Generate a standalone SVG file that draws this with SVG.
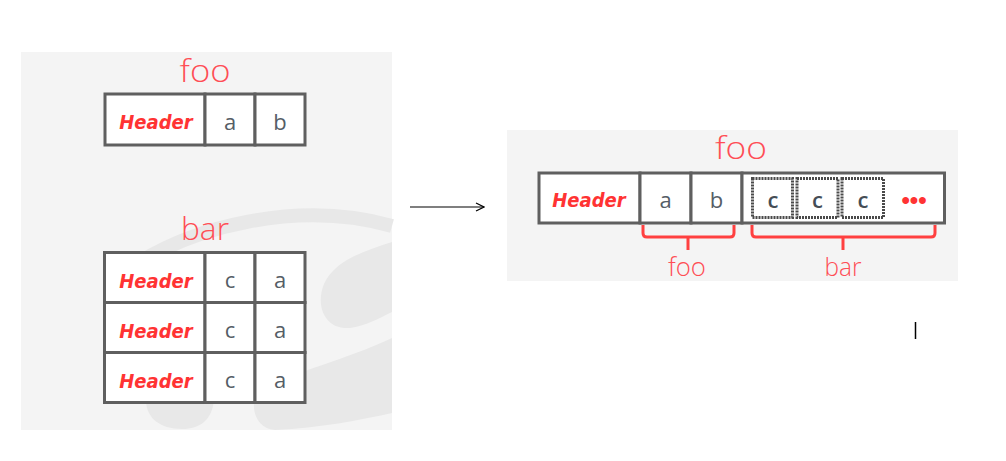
<svg xmlns="http://www.w3.org/2000/svg" width="1006" height="461" viewBox="0 0 1006 461">
<defs>
<style>
.panel{fill:#f4f4f4}
.wm{fill:#e8e8e8}
.cell{fill:#ffffff;stroke:#5f5f5f;stroke-width:3}
.hdr{font-family:"DejaVu Sans Condensed","DejaVu Sans",sans-serif;font-stretch:condensed;font-weight:bold;font-style:italic;font-size:20px;fill:#ff3333;text-anchor:middle}
.val{font-family:"Open Sans","Liberation Sans",sans-serif;font-weight:400;font-size:22px;fill:#555d66;text-anchor:middle}
.valb{font-family:"Open Sans","Liberation Sans",sans-serif;font-weight:600;font-size:22px;fill:#454d56;text-anchor:middle}
.title{font-family:"Open Sans","Liberation Sans",sans-serif;font-weight:300;fill:#ff4d55;text-anchor:middle}
.dot{fill:none;stroke:#4a4a4a;stroke-width:3;stroke-dasharray:2 1}
.brace{fill:none;stroke:#ff4040;stroke-width:3;stroke-linejoin:round}
</style>
<marker id="arr" viewBox="0 0 10 10" refX="9" refY="5" markerWidth="10" markerHeight="10" markerUnits="userSpaceOnUse" orient="auto">
<path d="M1 1 L9 5 L1 9" fill="none" stroke="#000" stroke-width="1.2"/>
</marker>
</defs>
<rect width="1006" height="461" fill="#ffffff"/>
<rect class="panel" x="21" y="52" width="371" height="378"/>
<g id="watermark">
<path d="M125 272 C190 225 300 200 392 226" fill="none" stroke="#e8e8e8" stroke-width="14"/>
<path class="wm" d="M392 242 C360 252 334 262 324 284 C315 306 325 330 350 328 C365 326 380 318 392 312 Z"/>
<path class="wm" d="M392 338 C345 360 295 372 262 388 C248 398 252 428 275 430 C320 428 360 420 392 413 Z"/>
<path class="wm" d="M146 395 C144 418 160 429 182 429 C200 429 212 420 214 400 Z"/>
</g>
<rect class="panel" x="507" y="130" width="451" height="151"/>
<g id="foo-left">
<text class="title" x="205" y="82" font-size="31" textLength="51" lengthAdjust="spacingAndGlyphs">foo</text>
<rect class="cell" x="105" y="94" width="100" height="51"/>
<rect class="cell" x="205" y="94" width="50" height="51"/>
<rect class="cell" x="255" y="94" width="50" height="51"/>
<text class="hdr" x="156" y="129">Header</text>
<text class="val" x="230" y="130">a</text>
<text class="val" x="280" y="130">b</text>
</g>
<g id="bar-left">
<text class="title" x="205" y="240" font-size="31" textLength="48" lengthAdjust="spacingAndGlyphs">bar</text>
<rect class="cell" x="104.5" y="252.5" width="100.5" height="50"/>
<rect class="cell" x="205" y="252.5" width="50" height="50"/>
<rect class="cell" x="255" y="252.5" width="50" height="50"/>
<rect class="cell" x="104.5" y="302.5" width="100.5" height="50"/>
<rect class="cell" x="205" y="302.5" width="50" height="50"/>
<rect class="cell" x="255" y="302.5" width="50" height="50"/>
<rect class="cell" x="104.5" y="352.5" width="100.5" height="50"/>
<rect class="cell" x="205" y="352.5" width="50" height="50"/>
<rect class="cell" x="255" y="352.5" width="50" height="50"/>
<text class="hdr" x="156" y="288">Header</text>
<text class="val" x="230" y="288">c</text>
<text class="val" x="280" y="288">a</text>
<text class="hdr" x="156" y="338">Header</text>
<text class="val" x="230" y="338">c</text>
<text class="val" x="280" y="338">a</text>
<text class="hdr" x="156" y="388">Header</text>
<text class="val" x="230" y="388">c</text>
<text class="val" x="280" y="388">a</text>
</g>
<g id="foo-right">
<text class="title" x="741" y="159" font-size="31" textLength="52" lengthAdjust="spacingAndGlyphs">foo</text>
<rect class="cell" x="539" y="173" width="101" height="50"/>
<rect class="cell" x="640" y="173" width="51" height="50"/>
<rect class="cell" x="691" y="173" width="51" height="50"/>
<rect class="cell" x="742" y="173" width="202.5" height="50"/>
<text class="hdr" x="589" y="207">Header</text>
<text class="val" x="665.5" y="208">a</text>
<text class="val" x="716.5" y="208">b</text>
<rect class="dot" x="752.5" y="178.5" width="40" height="39"/>
<rect class="dot" x="797" y="178.5" width="41" height="39"/>
<rect class="dot" x="842" y="178.5" width="41.5" height="39"/>
<text class="valb" x="773" y="208">c</text>
<text class="valb" x="817.5" y="208">c</text>
<text class="valb" x="863" y="208">c</text>
<text x="914" y="208" font-family="Liberation Sans,sans-serif" font-weight="bold" font-size="24" fill="#ff3333" text-anchor="middle">•••</text>
</g>
<g id="brace-foo">
<path class="brace" d="M643 225 V233 Q643 237 647 237 H730 Q734 237 734 233 V225 M688 237 V250"/>
<text class="title" x="687" y="276" font-size="25" textLength="38" lengthAdjust="spacingAndGlyphs">foo</text>
</g>
<g id="brace-bar">
<path class="brace" d="M752 225 V233 Q752 237 756 237 H931 Q935 237 935 233 V225 M843 237 V250"/>
<text class="title" x="843" y="276" font-size="25" textLength="37" lengthAdjust="spacingAndGlyphs">bar</text>
</g>
<g id="connectors">
<line x1="410" y1="207" x2="484" y2="207" stroke="#000" stroke-width="1.2" marker-end="url(#arr)"/>
<line x1="915.5" y1="322" x2="915.5" y2="339" stroke="#000" stroke-width="1.5"/>
</g>
</svg>
